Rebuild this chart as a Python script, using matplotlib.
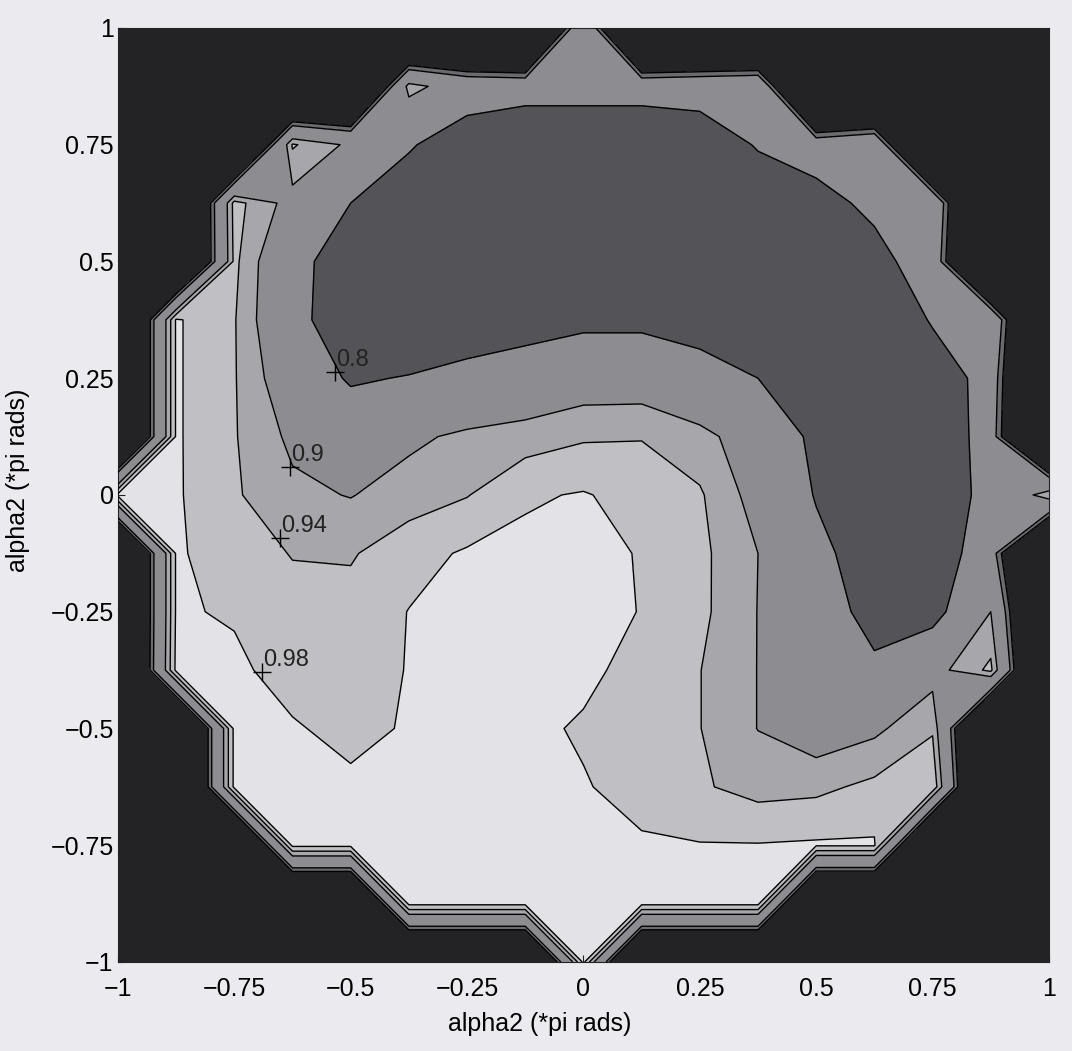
import numpy as np
import matplotlib.pyplot as plt
from matplotlib.colors import ListedColormap, BoundaryNorm

plt.rcParams['font.family'] = ['Liberation Sans', 'DejaVu Sans']

# grid of alpha values (*pi rads), 0.125 steps
alpha = [-1, -0.875, -0.75, -0.625, -0.5, -0.375, -0.25, -0.125, 0,
         0.125, 0.25, 0.375, 0.5, 0.625, 0.75, 0.875, 1]
alpha_rows = alpha[::-1]   # rows below run from +1 (top) down to -1

O = 0.5   # value outside the unit disc

# values, one row per alpha2 value
ratio = [
    [O, O, O, O, O, O, O, O, 0.88, O, O, O, O, O, O, O, O],                                                   # 1
    [O, O, O, O, O, 0.92, 0.86, 0.85, 0.85, 0.85, 0.86, 0.87, O, O, O, O, O],                                  # 0.875
    [O, O, O, 0.945, 0.89, 0.81, 0.74, 0.70, 0.70, 0.70, 0.72, 0.81, 0.84, 0.87, O, O, O],                     # 0.75
    [O, O, 0.955, 0.88, 0.80, 0.74, 0.70, 0.68, 0.68, 0.68, 0.69, 0.72, 0.77, 0.82, 0.87, O, O],               # 0.625
    [O, O, 0.95, 0.83, 0.75, 0.71, 0.69, 0.68, 0.68, 0.68, 0.68, 0.69, 0.72, 0.77, 0.85, O, O],                # 0.5
    [O, 0.985, 0.943, 0.83, 0.74, 0.72, 0.74, 0.76, 0.78, 0.78, 0.76, 0.72, 0.70, 0.70, 0.81, 0.87, O],        # 0.375
    [O, 0.985, 0.943, 0.86, 0.79, 0.805, 0.83, 0.85, 0.87, 0.87, 0.84, 0.80, 0.74, 0.70, 0.74, 0.84, O],       # 0.25
    [O, 0.985, 0.943, 0.89, 0.86, 0.89, 0.91, 0.92, 0.935, 0.938, 0.915, 0.87, 0.78, 0.72, 0.75, 0.83, O],     # 0.125
    [0.99, 0.985, 0.945, 0.91, 0.898, 0.92, 0.938, 0.975, 0.983, 0.965, 0.945, 0.88, 0.795, 0.74, 0.76, 0.82, 0.93],  # 0
    [O, 0.985, 0.96, 0.938, 0.936, 0.965, 0.985, 0.99, 0.99, 0.978, 0.95, 0.90, 0.82, 0.76, 0.77, 0.83, O],    # -0.125
    [O, 0.985, 0.975, 0.955, 0.955, 0.981, 0.99, 0.995, 0.99, 0.979, 0.95, 0.899, 0.83, 0.78, 0.77, 0.90, O],  # -0.25
    [O, 0.99, 0.99, 0.96, 0.95, 0.983, 0.995, 0.995, 0.99, 0.965, 0.941, 0.899, 0.86, 0.81, 0.88, 0.95, O],    # -0.375
    [O, O, 0.99, 0.985, 0.965, 0.985, 0.995, 0.99, 0.975, 0.96, 0.941, 0.899, 0.87, 0.89, 0.935, O, O],        # -0.5
    [O, O, 0.99, 0.99, 0.99, 0.99, 0.995, 0.995, 0.983, 0.965, 0.945, 0.925, 0.93, 0.95, 0.975, O, O],         # -0.625
    [O, O, O, 0.99, 0.99, 0.99, 0.99, 0.99, 0.99, 0.985, 0.982, 0.982, 0.985, 0.985, O, O, O],                 # -0.75
    [O, O, O, O, O, 0.99, 0.99, 0.99, 0.99, 0.99, 0.99, 0.99, O, O, O, O, O],                                  # -0.875
    [O, O, O, O, O, O, O, O, 0.99, O, O, O, O, O, O, O, O],                                                   # -1
]

levels = [0.8, 0.9, 0.94, 0.98]
edge_level = 0.77          # thin strip along the rim of the disc
band_colors = ['#232326', '#6a6a6f', '#8c8c91', '#a6a6ab', '#c0c0c4', '#e3e3e7']
blob_color = '#535358'     # inside the closed 0.8 contour

# labelled contour points (clabel positions)
label_text = ['0.8', '0.9', '0.94', '0.98']
label_x = [-0.534, -0.630, -0.652, -0.691]
label_y = [0.263, 0.060, -0.092, -0.379]

ticks = [-1, -0.75, -0.5, -0.25, 0, 0.25, 0.5, 0.75, 1]
tick_labels = ['\u22121', '\u22120.75', '\u22120.5', '\u22120.25', '0', '0.25', '0.5', '0.75', '1']

X, Y = np.meshgrid(alpha, alpha_rows)
Z = np.array(ratio)

fig = plt.figure(figsize=(10.72, 10.51), dpi=100, facecolor='#ebebef')
ax = fig.add_axes([0.110, 0.0847, 0.8685, 0.8887])

bounds = [0.0, edge_level] + levels + [1.0]
cmap = ListedColormap(band_colors)
norm = BoundaryNorm(bounds, cmap.N)
ax.contourf(X, Y, Z, levels=bounds, cmap=cmap, norm=norm, zorder=1)
ax.contour(X, Y, Z, levels=[edge_level], colors='black', linewidths=1.0, zorder=1.5)
cs = ax.contour(X, Y, Z, levels=levels, colors='black', linewidths=1.0, zorder=3)

# the closed 0.8 loop (well inside the disc) gets its own fill, like the old contourf
def loop_area(s):
    return 0.5 * abs(np.dot(s[:, 0], np.roll(s[:, 1], 1)) - np.dot(s[:, 1], np.roll(s[:, 0], 1)))

inner = [s for s in cs.allsegs[0] if len(s) > 3 and np.hypot(s[:, 0], s[:, 1]).max() < 0.93]
if inner:
    blob = max(inner, key=loop_area)
    ax.fill(blob[:, 0], blob[:, 1], facecolor=blob_color, edgecolor=blob_color, lw=0.8, zorder=2)

for t, lx, ly in zip(label_text, label_x, label_y):
    ax.plot(lx, ly, marker='+', color='black', markersize=13, mew=1.0, zorder=4)
    ax.annotate(t, (lx, ly), xytext=(1, 1), textcoords='offset points',
                ha='left', va='bottom', fontsize=17, color='#222222', zorder=4)

ax.set_xlim(-1, 1)
ax.set_ylim(-1, 1)
ax.set_xticks(ticks)
ax.set_xticklabels(tick_labels)
ax.set_yticks(ticks)
ax.set_yticklabels(tick_labels)
ax.tick_params(direction='in', length=5, labelsize=18, color='#232326')
ax.tick_params(axis='y', pad=3)
ax.tick_params(axis='x', pad=11)
for s in ax.spines.values():
    s.set_color('#232326')

ax.set_xlabel('alpha2 (*pi rads)', fontsize=18)
ax.set_ylabel('alpha2 (*pi rads)', fontsize=18)
ax.xaxis.set_label_coords(0.453, -0.054)
ax.yaxis.set_label_coords(-0.094, 0.516)

fig.savefig('out.png', dpi=100, facecolor=fig.get_facecolor())
